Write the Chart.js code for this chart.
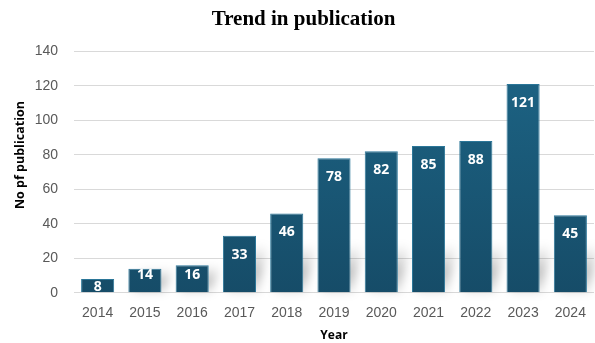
<!DOCTYPE html>
<html>
<head>
<meta charset="utf-8">
<script src="https://cdn.jsdelivr.net/npm/chart.js@4"></script>
<style>
  html, body { margin: 0; padding: 0; background: #fff; }
  #wrap { width: 595px; height: 343px; }
</style>
</head>
<body>
<div id="wrap"><canvas id="chart"></canvas></div>
<script>
const years = ["2014", "2015", "2016", "2017", "2018", "2019", "2020", "2021", "2022", "2023", "2024"];
const publications = [8, 14, 16, 33, 46, 78, 82, 85, 88, 121, 45];
const yTicks = [0, 20, 40, 60, 80, 100, 120, 140];
const yTitle = "No pf publication";

// soft grey shadow at the foot of each bar
const barShadow = {
  id: "barShadow",
  beforeDatasetsDraw(chart) {
    const ctx = chart.ctx;
    const meta = chart.getDatasetMeta(0);
    ctx.save();
    ctx.filter = "blur(5px)";
    meta.data.forEach((bar) => {
      const h = Math.min(bar.base - bar.y, 48);
      if (h < 20) return;
      const left = bar.x - bar.width / 2;
      const right = bar.x + bar.width / 2;
      const g = ctx.createLinearGradient(0, bar.base - h, 0, bar.base);
      g.addColorStop(0, "rgba(0,0,0,0)");
      g.addColorStop(0.6, "rgba(0,0,0,0.25)");
      g.addColorStop(1, "rgba(0,0,0,0.1)");
      ctx.fillStyle = g;
      ctx.beginPath();
      ctx.moveTo(left + 4, bar.base);
      ctx.lineTo(right + 2, bar.base);
      ctx.lineTo(right + 12, bar.base - h);
      ctx.lineTo(left + 14, bar.base - h);
      ctx.closePath();
      ctx.fill();
    });
    ctx.restore();
  },
};

// labels inside the top of each bar, white bold; y title drawn a bit above centre
const barLabels = {
  id: "barLabels",
  afterDatasetsDraw(chart) {
    const ctx = chart.ctx;
    const meta = chart.getDatasetMeta(0);
    ctx.save();
    ctx.fillStyle = "#ffffff";
    ctx.font = "bold 14px 'Open Sans', sans-serif";
    ctx.textAlign = "center";
    ctx.textBaseline = "middle";
    meta.data.forEach((bar, i) => {
      const h = bar.base - bar.y;
      let y;
      if (h < 20) y = (bar.y + bar.base) / 2 + 1;
      else y = Math.min(bar.y + 19, bar.base - 17);
      ctx.fillText(publications[i], bar.x, y);
    });

    const area = chart.chartArea;
    ctx.fillStyle = "#000000";
    ctx.font = "bold 12.5px 'Open Sans', sans-serif";
    ctx.translate(20, area.top + (area.bottom - area.top) * 0.43);
    ctx.rotate(-Math.PI / 2);
    ctx.fillText(yTitle, 0, 0);
    ctx.restore();
  },
};

const ctx = document.getElementById("chart").getContext("2d");
new Chart(ctx, {
  type: "bar",
  data: {
    labels: years,
    datasets: [
      {
        label: yTitle,
        data: publications,
        backgroundColor: (c) => {
          const area = c.chart.chartArea;
          if (!area) return "#195a7a";
          const g = c.chart.ctx.createLinearGradient(0, area.top, 0, area.bottom);
          g.addColorStop(0, "#1d6586");
          g.addColorStop(1, "#164c68");
          return g;
        },
        borderColor: "#2b7698",
        borderWidth: 1,
        categoryPercentage: 0.7,
        barPercentage: 1.0,
      },
    ],
  },
  options: {
    responsive: true,
    maintainAspectRatio: false,
    animation: false,
    layout: { padding: { left: 13, right: 1, top: 0, bottom: 0 } },
    plugins: {
      legend: { display: false },
      tooltip: { enabled: false },
      title: {
        display: true,
        text: "Trend in publication",
        color: "#000000",
        font: { family: "'Liberation Serif', 'Times New Roman', serif", size: 21, weight: "bold" },
        padding: { top: 7, bottom: 19 },
      },
    },
    scales: {
      x: {
        grid: { display: false },
        border: { display: false },
        ticks: {
          color: "#595959",
          font: { family: "'Liberation Sans', Arial, sans-serif", size: 14 },
          padding: 4,
        },
        title: {
          display: true,
          text: "Year",
          color: "#000000",
          font: { family: "'Open Sans', sans-serif", size: 12, weight: "bold" },
          padding: { top: 3, bottom: 0 },
        },
      },
      y: {
        min: 0,
        max: 140,
        afterBuildTicks: (axis) => {
          axis.ticks = yTicks.map((v) => ({ value: v }));
        },
        afterFit: (axis) => {
          axis.width = 61;
        },
        grid: { color: "#d9d9d9", lineWidth: 1, drawTicks: false },
        border: { display: false },
        ticks: {
          color: "#595959",
          font: { family: "'Liberation Sans', Arial, sans-serif", size: 14 },
          padding: 16,
        },
      },
    },
  },
  plugins: [barShadow, barLabels],
});
</script>
</body>
</html>
